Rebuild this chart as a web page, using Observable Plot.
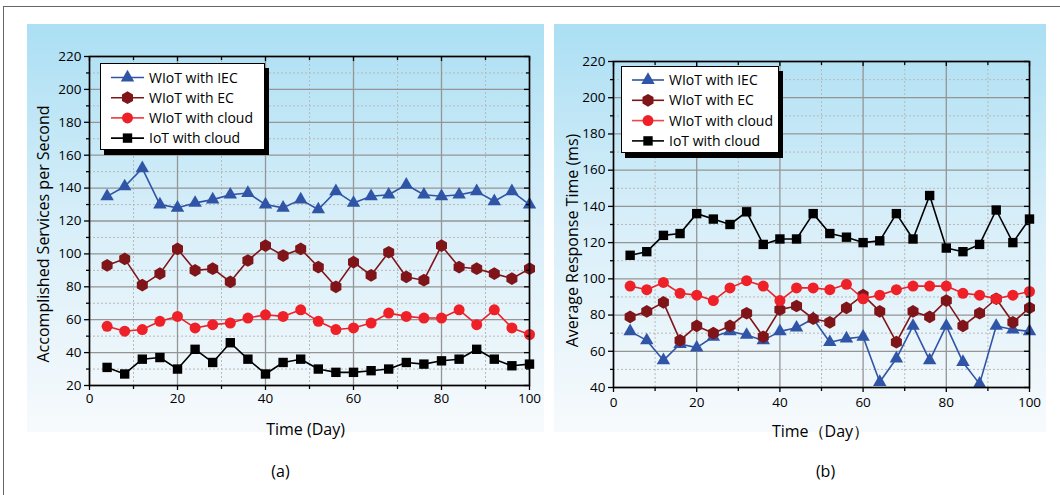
<!DOCTYPE html>
<html>
<head>
<meta charset="utf-8">
<script src="https://cdn.jsdelivr.net/npm/d3@7"></script>
<script src="https://cdn.jsdelivr.net/npm/@observablehq/plot@0.6"></script>
<style>
  body { margin: 0; background: #fff; }
  #root { position: relative; width: 1060px; height: 495px; overflow: hidden; font-family: "Open Sans", sans-serif; }
  .border { position: absolute; left: 3px; top: 6px; width: 1200px; height: 700px; border-top: 1px solid #666; border-left: 1px solid #666; }
  .panel { position: absolute; top: 24px; height: 408px; background: linear-gradient(#abdff3, #d9eff9 50%, #f7fafc); }
  .chart { position: absolute; top: 0; }
  .legend { position: absolute; background: #fff; border: 1px solid #000; box-shadow: 4px 5px 0 #000; }
  .legend svg { display: block; }
</style>
</head>
<body>
<div id="root">
  <div class="border"></div>
  <div class="panel" style="left:27px;width:517px;"></div>
  <div class="panel" style="left:554px;width:492px;"></div>
</div>
<script>
// ---------- data ----------
const days = [4, 8, 12, 16, 20, 24, 28, 32, 36, 40, 44, 48, 52, 56, 60, 64, 68, 72, 76, 80, 84, 88, 92, 96, 100];
const seriesNames = ["WIoT with IEC", "WIoT with EC", "WIoT with cloud", "IoT with cloud"];
const seriesColors = ["#3155a6", "#7f1518", "#ee2128", "#000000"];
const seriesSymbols = ["triangle", "hexagon", "circle", "square"];

// (a) Accomplished services per second
const servicesIEC   = [135, 141, 152, 130, 128, 131, 133, 136, 137, 130, 128, 133, 127, 138, 131, 135, 136, 142, 136, 135, 136, 138, 132, 138, 130];
const servicesEC    = [93, 97, 81, 88, 103, 90, 91, 83, 96, 105, 99, 103, 92, 80, 95, 87, 101, 86, 84, 105, 92, 91, 88, 85, 91];
const servicesWCloud = [56, 53, 54, 59, 62, 55, 57, 58, 61, 63, 62, 66, 59, 54, 55, 58, 64, 62, 61, 61, 66, 57, 66, 55, 51];
const servicesCloud = [31, 27, 36, 37, 30, 42, 34, 46, 36, 27, 34, 36, 30, 28, 28, 29, 30, 34, 33, 35, 36, 42, 36, 32, 33];

// (b) Average response time (ms)
const responseIEC   = [71, 66, 55, 64, 62, 68, 71, 69, 66, 71, 73, 78, 65, 67, 68, 43, 56, 74, 55, 74, 54, 42, 74, 72, 71];
const responseEC    = [79, 82, 87, 66, 74, 70, 74, 81, 68, 83, 85, 78, 76, 84, 91, 82, 65, 82, 79, 88, 74, 81, 89, 76, 84];
const responseWCloud = [96, 94, 98, 92, 91, 88, 95, 99, 96, 88, 95, 95, 94, 97, 89, 91, 94, 96, 96, 96, 92, 91, 89, 91, 93];
const responseCloud = [113, 115, 124, 125, 136, 133, 130, 137, 119, 122, 122, 136, 125, 123, 120, 121, 136, 122, 146, 117, 115, 119, 138, 120, 133];

// ticks
const xTicksMajor = [0, 20, 40, 60, 80, 100];
const xTicksMinor = [10, 30, 50, 70, 90];
const servicesTicks = [20, 40, 60, 80, 100, 120, 140, 160, 180, 200, 220];
const servicesMinor = [30, 50, 70, 90, 110, 130, 150, 170, 190, 210];
const responseTicks = [40, 60, 80, 100, 120, 140, 160, 180, 200, 220];
const responseMinor = [50, 70, 90, 110, 130, 150, 170, 190, 210];

// ---------- style ----------
const FONT = '"Open Sans", sans-serif';
const seriesR = [5, 5.5, 5.5, 5.3];

function chart(cfg) {
  const { series, yDomain, yTicks, yMinor, width, height, mL, mR, mT, mB } = cfg;
  const fw = width - mL - mR, fh = height - mT - mB;
  const marks = [
    Plot.gridY(yMinor, { stroke: "#b9b9b9", strokeOpacity: 1, strokeDasharray: "2,2" }),
    Plot.gridX(xTicksMinor, { stroke: "#b9b9b9", strokeOpacity: 1, strokeDasharray: "2,2" }),
    Plot.gridY(yTicks, { stroke: "#959595", strokeOpacity: 1, strokeWidth: 1.3 }),
    Plot.gridX(xTicksMajor, { stroke: "#959595", strokeOpacity: 1, strokeWidth: 1.3 })
  ];
  series.forEach((vals, i) => {
    const d = days.map((day, j) => ({ day, v: vals[j] }));
    marks.push(Plot.line(d, { x: "day", y: "v", stroke: seriesColors[i], strokeWidth: 1.6 }));
    marks.push(Plot.dot(d, { x: "day", y: "v", symbol: seriesSymbols[i], r: seriesR[i], fill: seriesColors[i], stroke: "none" }));
  });
  // inward ticks on right and top
  marks.push(Plot.ruleY(yTicks, { insetLeft: fw - 5, stroke: "#000", strokeWidth: 1.3 }));
  marks.push(Plot.ruleY(yMinor, { insetLeft: fw - 3, stroke: "#000", strokeWidth: 1.3 }));
  marks.push(Plot.ruleX(xTicksMajor, { insetBottom: fh - 5, stroke: "#000", strokeWidth: 1.3 }));
  marks.push(Plot.ruleX(xTicksMinor, { insetBottom: fh - 4, stroke: "#000", strokeWidth: 1.3 }));
  marks.push(Plot.frame({ stroke: "#000", strokeWidth: 1.6 }));
  // outward axes
  marks.push(Plot.axisY(yTicks, { tickSize: 5, tickPadding: 3, label: null, fontSize: 13.5, strokeWidth: 1.3 }));
  marks.push(Plot.axisY(yMinor, { tickSize: 3, tickFormat: () => "", label: null, strokeWidth: 1.3 }));
  marks.push(Plot.axisX(xTicksMajor, { tickSize: 5, tickPadding: cfg.xTickPad, label: null, fontSize: 13.5, strokeWidth: 1.3 }));
  marks.push(Plot.axisX(xTicksMinor, { tickSize: 4, tickFormat: () => "", label: null, strokeWidth: 1.3 }));
  // texts
  marks.push(Plot.text([cfg.yLabel], { frameAnchor: "left", textAnchor: "middle", dx: cfg.yLabelDx, dy: cfg.yLabelDy, rotate: -90, fontSize: 16, fill: "#000" }));
  marks.push(Plot.text([cfg.xLabel], { frameAnchor: "bottom", textAnchor: "middle", dx: cfg.xLabelDx, dy: cfg.xLabelDy, fontSize: 16, fill: "#000" }));
  marks.push(Plot.text([cfg.tag], { frameAnchor: "bottom", textAnchor: "middle", dx: cfg.tagDx, dy: cfg.tagDy, fontSize: 16, fill: "#000" }));
  return Plot.plot({
    width, height,
    marginLeft: mL, marginRight: mR, marginTop: mT, marginBottom: mB,
    x: { domain: [0, 100], label: null },
    y: { domain: yDomain, label: null },
    style: { background: "transparent", fontFamily: FONT, fontSize: "13px", color: "#000", overflow: "visible" },
    marks
  });
}

function symbolPath(i, r) {
  const size = r * r * Math.PI;
  if (seriesSymbols[i] === "hexagon") {
    const rx = r, ry = rx * 2 / Math.sqrt(3), hy = ry / 2;
    return `M0,${ry}L${rx},${hy}L${rx},${-hy}L0,${-ry}L${-rx},${-hy}L${-rx},${hy}Z`;
  }
  const t = { triangle: d3.symbolTriangle, circle: d3.symbolCircle, square: d3.symbolSquare }[seriesSymbols[i]];
  return d3.symbol(t, size)();
}

function legend(cfg) {
  const div = d3.create("div").attr("class", "legend")
    .style("left", cfg.left + "px").style("top", cfg.top + "px");
  const svg = div.append("svg").attr("width", cfg.w).attr("height", cfg.h);
  seriesNames.forEach((name, i) => {
    const y = cfg.row0 + i * cfg.gap;
    svg.append("line").attr("x1", cfg.x0).attr("x2", cfg.x1).attr("y1", y).attr("y2", y)
      .attr("stroke", i === 2 ? "#f0474d" : seriesColors[i]).attr("stroke-width", 1.6);
    svg.append("path").attr("d", symbolPath(i, seriesR[i]))
      .attr("transform", `translate(${(cfg.x0 + cfg.x1) / 2},${y})`).attr("fill", seriesColors[i]);
    svg.append("text").attr("x", cfg.tx).attr("y", y).attr("dy", "0.36em")
      .attr("font-family", FONT).attr("font-size", 14).attr("fill", "#000").text(name);
  });
  return div.node();
}

const root = document.getElementById("root");

const left = chart({
  series: [servicesIEC, servicesEC, servicesWCloud, servicesCloud],
  yDomain: [20, 220], yTicks: servicesTicks, yMinor: servicesMinor,
  width: 545, height: 495, mL: 89, mR: 16, mT: 56, mB: 110,
  xTickPad: 3,
  yLabel: "Accomplished Services per Second", yLabelDx: -46, yLabelDy: 13,
  xLabel: "Time (Day)", xLabelDx: -4, xLabelDy: 49,
  tag: "(a)", tagDx: -29, tagDy: 91
});
left.classList.add("chart");
left.style.left = "0px";
root.appendChild(left);

const right = chart({
  series: [responseIEC, responseEC, responseWCloud, responseCloud],
  yDomain: [40, 220], yTicks: responseTicks, yMinor: responseMinor,
  width: 515, height: 495, mL: 68, mR: 31, mT: 61, mB: 108,
  xTickPad: 5,
  yLabel: "Average Response Time (ms)", yLabelDx: -41, yLabelDy: 16,
  xLabel: "Time（Day）", xLabelDx: -1, xLabelDy: 49,
  tag: "(b)", tagDx: 4, tagDy: 89
});
right.classList.add("chart");
right.style.left = "545px";
root.appendChild(right);

root.appendChild(legend({ left: 100, top: 63, w: 163, h: 85, row0: 13.5, gap: 20.2, x0: 10, x1: 43, tx: 48 }));
root.appendChild(legend({ left: 621, top: 66, w: 156, h: 85, row0: 13, gap: 20.3, x0: 10, x1: 42, tx: 47 }));
</script>
</body>
</html>
